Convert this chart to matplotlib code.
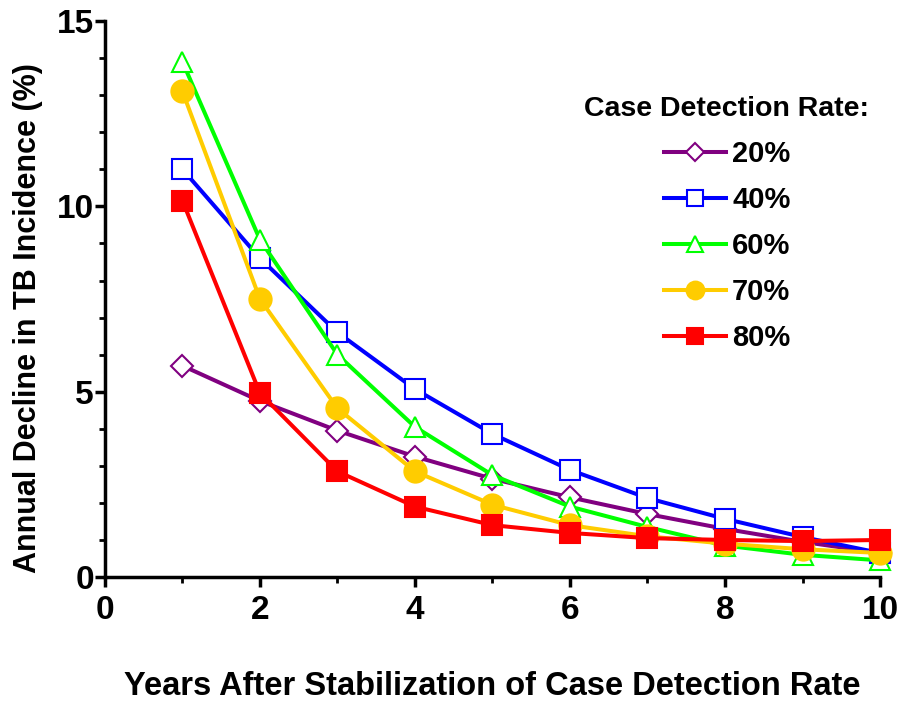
import numpy as np
import matplotlib.pyplot as plt
from matplotlib.ticker import MultipleLocator

plt.rcParams['font.family'] = ['Liberation Sans', 'DejaVu Sans']
plt.rcParams['font.weight'] = 'bold'

years = np.arange(1, 11)
rate_labels = ['20%', '40%', '60%', '70%', '80%']
cdr20 = [5.7, 4.75, 3.95, 3.25, 2.65, 2.15, 1.7, 1.3, 0.95, 0.65]
cdr40 = [11.0, 8.6, 6.6, 5.07, 3.86, 2.89, 2.13, 1.57, 1.08, 0.65]
cdr60 = [13.9, 9.1, 6.0, 4.05, 2.75, 1.9, 1.35, 0.85, 0.6, 0.45]
cdr70 = [13.1, 7.5, 4.55, 2.85, 1.95, 1.4, 1.1, 0.9, 0.75, 0.65]
cdr80 = [10.15, 4.96, 2.85, 1.9, 1.4, 1.19, 1.05, 1.0, 0.97, 1.0]

series = [cdr20, cdr40, cdr60, cdr70, cdr80]
colors = ['#800080', '#0000ff', '#00ff00', '#ffcc00', '#ff0000']
markers = ['D', 's', '^', 'o', 's']
filled = [False, False, False, True, True]
msizes = [11, 14, 15, 16, 14]

fig = plt.figure(figsize=(9.01, 7.02), dpi=100)
ax = fig.add_axes([0.1165, 0.178, 0.8602, 0.792])

for vals, lab, c, m, f, ms in zip(series, rate_labels, colors, markers, filled, msizes):
    ax.plot(years, vals, color=c, lw=2.9, marker=m, ms=ms,
            markerfacecolor=c if f else 'white', markeredgecolor=c,
            markeredgewidth=1.5, label=lab, clip_on=False)

ax.set_xlim(0, 10)
ax.set_ylim(0, 15)
ax.xaxis.set_major_locator(MultipleLocator(2))
ax.xaxis.set_minor_locator(MultipleLocator(1))
ax.yaxis.set_major_locator(MultipleLocator(5))
ax.yaxis.set_minor_locator(MultipleLocator(1))
for s in ['top', 'right']:
    ax.spines[s].set_visible(False)
for s in ['left', 'bottom']:
    ax.spines[s].set_linewidth(2.5)
ax.tick_params(which='major', length=7, width=2.5, labelsize=24)
ax.tick_params(axis='x', which='major', pad=6)
ax.tick_params(axis='y', which='major', pad=1)
ax.tick_params(which='minor', length=4, width=2)
for t in ax.get_xticklabels() + ax.get_yticklabels():
    t.set_fontweight('bold')

ax.set_xlabel('Years After Stabilization of Case Detection Rate', fontsize=23.5,
              fontweight='bold', labelpad=32)
ax.set_ylabel('Annual Decline in TB Incidence (%)', fontsize=22,
              fontweight='bold')
ax.yaxis.set_label_coords(-0.08, 0.466)

leg = ax.legend(title='Case Detection Rate:', frameon=False, loc='upper right',
                bbox_to_anchor=(1.009, 0.897), fontsize=21, title_fontsize=20.5,
                handlelength=2.15, labelspacing=0.62, handletextpad=0.2,
                markerscale=0.8, borderaxespad=0.2)
leg.get_title().set_fontweight('bold')
for t in leg.get_texts():
    t.set_fontweight('bold')

fig.savefig('out.png', dpi=100)
